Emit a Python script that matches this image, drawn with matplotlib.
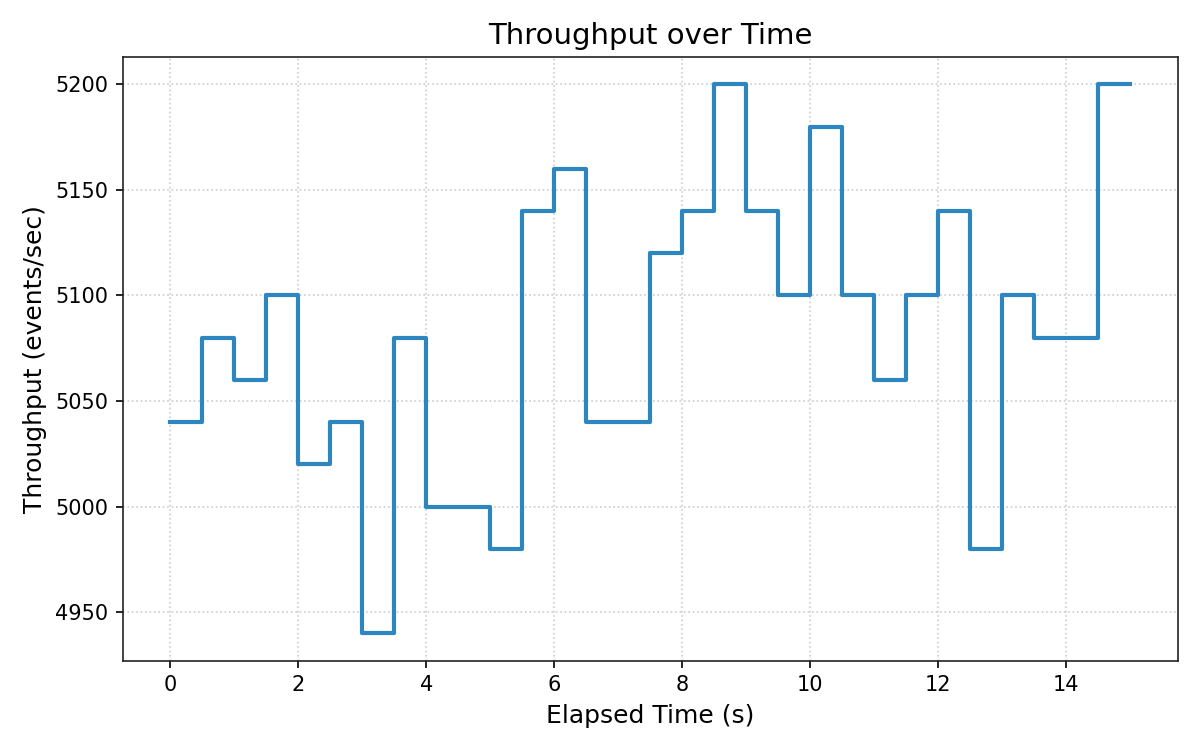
import numpy as np
import matplotlib
matplotlib.use("Agg")
import matplotlib.pyplot as plt

# elapsed time (s) and throughput samples
elapsed = [0, 0.5, 1.0, 1.5, 2.0, 2.5, 3.0, 3.5, 4.0, 4.5, 5.0, 5.5, 6.0, 6.5, 7.0,
           7.5, 8.0, 8.5, 9.0, 9.5, 10.0, 10.5, 11.0, 11.5, 12.0, 12.5, 13.0,
           13.5, 14.0, 14.5, 15.0]
throughput = [5040, 5080, 5060, 5100, 5020, 5040, 4940, 5080, 5000, 5000, 4980,
              5140, 5160, 5040, 5040, 5120, 5140, 5200, 5140, 5100, 5180, 5100,
              5060, 5100, 5140, 4980, 5100, 5080, 5080, 5200, 5200]

fig, ax = plt.subplots(figsize=(8, 5), dpi=150)

ax.step(elapsed, throughput, where='post', color='#2e86c1', linewidth=2)

ax.set_title('Throughput over Time', fontsize=14)
ax.set_xlabel('Elapsed Time (s)', fontsize=12)
ax.set_ylabel('Throughput (events/sec)', fontsize=12)
ax.tick_params(labelsize=10)
for s in ax.spines.values():
    s.set_color('#222222')
ax.grid(True, linestyle=':', color='#cccccc', linewidth=0.8)

fig.tight_layout()
fig.savefig('out.png')
